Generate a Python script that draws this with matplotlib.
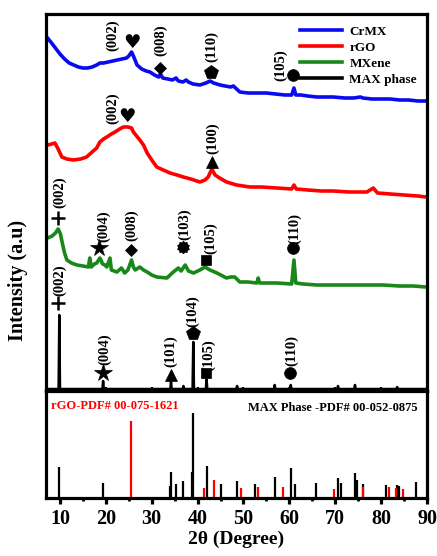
import matplotlib
matplotlib.use("Agg")
import matplotlib.pyplot as plt
from matplotlib.ticker import MultipleLocator

plt.rcParams['font.family'] = ['Liberation Serif', 'DejaVu Sans']
plt.rcParams['font.weight'] = 'bold'

# ---- XRD patterns (2theta, stacked intensity) ----
crmx_2t = [7.1, 8, 9, 10, 11, 12, 13, 14, 15, 16, 17, 18, 18.7, 19.5, 20.5, 21.5, 22.5, 23.5, 24.5,
           25.0, 25.6, 26.0, 26.8, 27.8, 28.8, 29.6, 30.6, 31.5, 31.9, 32.4, 33.5, 34.5, 35.3, 35.8,
           36.8, 37.5, 38.0, 39.0, 40.5, 41.8, 42.7, 43.5, 44.9, 46.0, 47.2, 47.8, 48.5, 49.2, 51,
           53, 55, 57, 59, 60.5, 61.0, 61.4, 62.5, 64, 66, 68, 69.6, 72, 74, 75.5, 76, 78, 80, 82,
           84, 86, 88, 90]
crmx_i = [354, 349, 343, 337, 332, 328, 326, 324, 323, 323, 324, 326, 328, 328, 329, 330, 331, 332, 333,
          335, 339, 335, 326, 322, 320, 319, 316, 314, 317, 313, 312, 311, 313, 310,
          309, 311, 309, 307, 306, 308, 310, 308, 306, 305, 304, 305, 302, 299, 298,
          298, 298, 297, 296, 296, 303, 296, 296, 295, 294, 294, 294, 293, 293, 294, 293, 292, 292, 292,
          291, 291, 290, 290]

rgo_2t = [7.3, 8.2, 8.9, 9.6, 10.4, 11.5, 12.9, 14.5, 15.8, 17.0, 18.0, 18.7, 19.5, 20.2, 21.2,
          22.0, 23.0, 23.8, 24.8, 25.6, 26.0, 26.7, 27.4, 28.2, 29.0, 30.0, 31.1, 32.5, 34.0,
          35.5, 36.9, 38.5, 40.5, 41.6, 42.3, 43.1, 43.8, 44.8, 46.3, 48.5, 51.4, 54, 57.3, 60.5,
          61.0, 61.5, 64, 67, 69.6, 73, 76.9, 78.3, 79.2, 82, 85, 88, 89.8]
rgo_i = [246, 247, 248, 242, 234, 232, 231, 232, 234, 239, 243, 249, 252, 254, 257,
         259, 262, 264, 264, 263, 259, 255, 251, 246, 238, 231, 224, 221, 218,
         216, 214, 212, 209, 211, 214, 222, 216, 213, 209, 206, 204, 204, 203, 202,
         206, 202, 201, 200, 200, 199, 199, 203, 198, 197, 196, 195, 194]

mx_2t = [7.3, 8.3, 9.0, 9.6, 10.1, 10.5, 11.0, 11.5, 12.5, 13.7, 15.0, 16.2, 16.5, 16.8, 17.5, 18.0,
         18.7, 19.3, 19.8, 20.2, 20.9, 21.2, 22.4, 23.4, 24.1, 24.8, 25.6, 26.0, 26.4, 27.4, 28.2,
         29.0, 30.0, 31.1, 33.3, 34.0, 34.7, 35.8, 36.4, 37.3, 38.0, 39.1, 40.5, 41.6, 42.7, 44.2,
         46.3, 47.2, 48.1, 49.2, 51, 52.9, 53.2, 53.5, 55, 57.3, 60.5, 61.0, 61.4, 63, 66, 69.5,
         73.2, 77, 80.4, 84, 87, 89.8]
mx_i = [153, 155, 158, 162, 157, 148, 138, 131, 128, 126, 125, 124, 133, 124, 127, 128,
        133, 127, 126, 124, 133, 121, 119, 123, 118, 121, 131, 124, 121, 124, 121,
        119, 116, 114, 113, 116, 119, 123, 120, 126, 120, 118, 121, 124, 121, 118,
        113, 114, 114, 109, 109, 108, 113, 108, 108, 108, 107, 131, 108, 107, 106, 106,
        106, 106, 106, 105, 105, 104]

max_2t = [7.0, 9.7, 9.85, 10.0, 19.25, 19.4, 19.55, 34.05, 34.2, 34.35, 36.75, 36.9, 37.05, 38.9,
          39.05, 39.2, 41.8, 41.95, 42.1, 48.45, 48.6, 48.75, 56.65, 56.8, 56.95, 60.15, 60.3, 60.45,
          70.45, 70.6, 70.75, 74.15, 74.3, 74.45, 83.35, 83.5, 83.65, 90.0]
max_i = [2, 2, 76, 2, 2, 10, 2, 2, 9, 2, 2, 5, 2, 2,
         49, 2, 2, 12, 2, 2, 5, 2, 2, 6, 2, 2, 6, 2,
         2, 5, 2, 2, 6, 2, 2, 4, 2, 2]

# ---- reference cards (stick patterns) ----
max_card_2t = [9.85, 19.4, 33.9, 34.2, 35.2, 36.8, 38.7, 39.05, 41.95, 45.0, 48.6, 52.6, 56.8,
               60.3, 61.2, 65.8, 70.6, 71.2, 74.3, 74.8, 76.1, 81.0, 83.5, 83.8, 87.6]
max_card_i = [31, 15, 12, 26, 14, 17, 26, 85, 32, 14, 17, 14, 21,
              30, 14, 15, 20, 15, 25, 18, 14, 13, 13, 12, 16]
rgo_card_2t = [25.5, 41.3, 43.6, 49.4, 53.1, 58.6, 69.8, 76.0, 81.8, 83.2, 84.7]
rgo_card_i = [77, 10, 18, 10, 11, 11, 9, 11, 11, 10, 9]

series_names = ["CrMX", "rGO", "MXene", "MAX phase"]
series_colors = ["#0a0aee", "#ff0000", "#1a871a", "#000000"]

# ---- peak labels: (text, text_x, text_y, marker, marker_x, marker_y) ----
peak_labels = [
    ("(002)", 21.5, 356, "heart", 25.7, 348),
    ("(008)", 32.0, 351, "D", 31.8, 323),
    ("(110)", 43.1, 345, "p", 42.9, 319),
    ("(105)", 58.0, 326, "o", 60.8, 316),
    ("(002)", 21.5, 283, "heart", 24.6, 274),
    ("(100)", 43.3, 253, "^", 43.1, 229),
    ("(002)", 10.0, 199, "+", 9.6, 173),
    ("(004)", 19.6, 165, "*", 18.5, 143),
    ("(008)", 25.7, 166, "D", 25.5, 141),
    ("(103)", 37.2, 167, "gear", 36.8, 144),
    ("(105)", 42.9, 153, "s", 41.8, 131),
    ("(110)", 61.2, 163, "o", 60.8, 143),
    ("(002)", 10.0, 111, "+", 9.6, 88),
    ("(004)", 19.8, 42, "*", 19.4, 18),
    ("(101)", 34.2, 40, "^", 34.2, 16),
    ("(104)", 39.0, 80, "p", 39.0, 58),
    ("(105)", 42.3, 36, "s", 41.8, 18),
    ("(110)", 60.4, 41, "o", 60.1, 18),
]
marker_sizes = {"D": 6, "p": 10, "o": 8.5, "^": 8.5, "+": 10, "*": 13, "s": 7.5}

W, H = 437, 556
fig = plt.figure(figsize=(W / 100, H / 100), dpi=100)
left, right = 46 / W, 427 / W
ax = fig.add_axes([left, 1 - 391 / H, right - left, (391 - 14) / H])
ax2 = fig.add_axes([left, 1 - 498 / H, right - left, (498 - 391) / H])

lw_spine = 2.3
for a in (ax, ax2):
    for s in a.spines.values():
        s.set_linewidth(lw_spine)
    a.set_xlim(6.95, 90)
    a.xaxis.set_major_locator(MultipleLocator(10))
    a.xaxis.set_minor_locator(MultipleLocator(5))
    a.set_yticks([])

xs = [crmx_2t, rgo_2t, mx_2t, max_2t]
ys = [crmx_i, rgo_i, mx_i, max_i]
for x, y, c, n in zip(xs, ys, series_colors, series_names):
    lw = 1.8 if n == "MAX phase" else 2.6
    ax.plot(x, y, color=c, lw=lw, label=n, solid_joinstyle='round')
ax.set_ylim(0, 377)
ax.tick_params(axis='x', which='both', direction='in', labelbottom=False, width=1.5)
ax.tick_params(axis='x', which='major', length=3)
ax.tick_params(axis='x', which='minor', length=2)

for (txt, tx, ty, mk, mx, my) in peak_labels:
    ax.text(tx, ty, txt, rotation=90, ha='center', va='center', fontsize=10.5,
            fontweight='bold')
    if mk == "heart":
        ax.text(mx, my, "\u2665", ha='center', va='center', fontsize=14,
                family=['DejaVu Sans'], color='black')
    elif mk == "gear":
        ax.plot(mx, my, marker='o', ms=7, color='black', ls='none')
        ax.plot(mx, my, marker=(10, 1, 0), ms=9, color='black', ls='none')
    elif mk == "+":
        ax.plot(mx, my, marker='+', ms=marker_sizes[mk], color='black', ls='none',
                markeredgewidth=1.8)
    else:
        ax.plot(mx, my, marker=mk, ms=marker_sizes[mk], color='black', ls='none',
                markeredgewidth=0.5)

leg = ax.legend(loc='upper right', bbox_to_anchor=(1.005, 1.0), frameon=False,
                handlelength=3.2, handletextpad=0.55, labelspacing=0.28,
                prop={'weight': 'bold', 'size': 9.5})
for h in leg.get_lines():
    h.set_linewidth(2.6)

ax2.vlines(max_card_2t, 0, max_card_i, color='black', lw=1.6)
ax2.vlines(rgo_card_2t, 0, rgo_card_i, color='#ff0000', lw=1.6)
ax2.set_ylim(0, 107)
ax2.tick_params(axis='x', which='major', direction='out', length=4, width=2.3,
                labelsize=14.5, pad=4)
ax2.tick_params(axis='x', which='minor', direction='out', length=2.5, width=2)
for lab in ax2.get_xticklabels():
    lab.set_fontweight('bold')
ax2.text(0.012, 0.86, "rGO-PDF# 00-075-1621", transform=ax2.transAxes, color='#ff0000',
         fontsize=9, fontweight='bold', ha='left', va='center')
ax2.text(0.975, 0.84, "MAX Phase -PDF# 00-052-0875", transform=ax2.transAxes, color='black',
         fontsize=9, fontweight='bold', ha='right', va='center')
ax2.set_xlabel("2\u03b8 (Degree)", fontsize=14, fontweight='bold', labelpad=1)

fig.text(18 / W, 1 - 280 / H, "Intensity (a.u)", rotation=90, ha='center', va='center',
         fontsize=14.5, fontweight='bold')

fig.savefig("out.png", dpi=100)
